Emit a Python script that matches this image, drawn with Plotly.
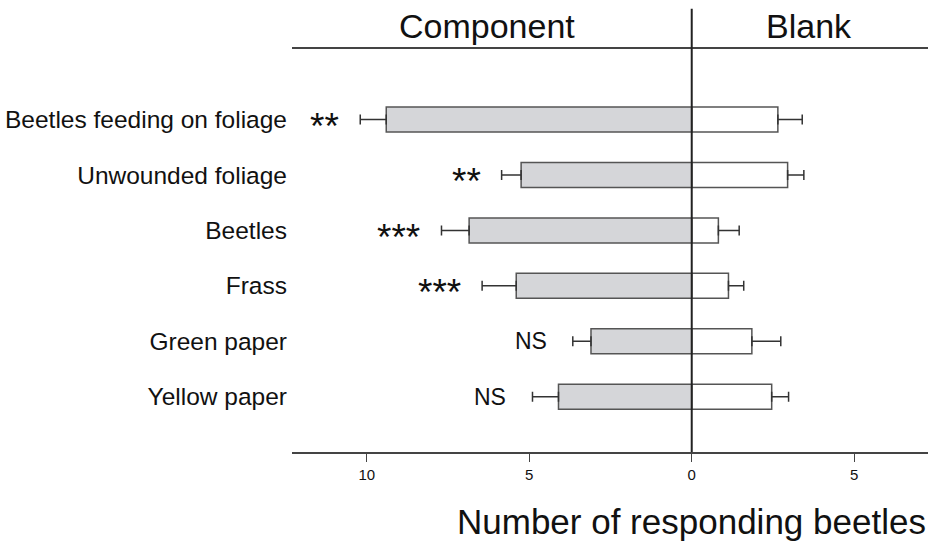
import plotly.graph_objects as go

categories = ["Beetles feeding on foliage", "Unwounded foliage", "Beetles", "Frass",
              "Green paper", "Yellow paper"]
component = [9.4, 5.25, 6.85, 5.4, 3.1, 4.1]
component_err = [0.8, 0.6, 0.85, 1.05, 0.56, 0.8]
blank = [2.65, 2.95, 0.82, 1.13, 1.85, 2.46]
blank_err = [0.75, 0.5, 0.64, 0.47, 0.89, 0.52]
significance = ["**", "**", "***", "***", "NS", "NS"]
tick_vals = [-10, -5, 0, 5]
tick_text = ["10", "5", "0", "5"]

FONT = "Liberation Sans, Arial, Helvetica, sans-serif"
EDGE = "#555555"
TXT = "#111111"

fig = go.Figure()
fig.add_trace(go.Bar(
    y=categories, x=[-v for v in component], orientation="h", width=0.45,
    marker=dict(color="#d5d6d9", line=dict(color=EDGE, width=1.5)),
    error_x=dict(type="data", symmetric=False, array=[0] * len(component),
                 arrayminus=component_err, color="#333333", thickness=1.5, width=5),
    showlegend=False,
))
fig.add_trace(go.Bar(
    y=categories, x=blank, orientation="h", width=0.45,
    marker=dict(color="white", line=dict(color=EDGE, width=1.5)),
    error_x=dict(type="data", symmetric=False, array=blank_err,
                 arrayminus=[0] * len(blank), color="#333333", thickness=1.5, width=5),
    showlegend=False,
))

annotations = []
for cat, v, e, s in zip(categories, component, component_err, significance):
    star = s.startswith("*")
    annotations.append(dict(
        x=-(v + e), y=cat, xref="x", yref="y", text=s, showarrow=False,
        xanchor="right", yanchor="middle", xshift=-19 if star else -24,
        yshift=-7 if star else 0,
        font=dict(family=FONT, size=37 if star else 23, color=TXT),
    ))
# header positions in paper fractions of the plot width (plot spans 290..928 px)
annotations += [
    dict(x=(486 - 290) / 638, y=1.0, xref="paper", yref="paper", text="Component",
         showarrow=False, xanchor="center", yanchor="bottom", yshift=2,
         font=dict(family=FONT, size=34, color=TXT)),
    dict(x=(808.5 - 290) / 638, y=1.0, xref="paper", yref="paper", text="Blank",
         showarrow=False, xanchor="center", yanchor="bottom", yshift=2,
         font=dict(family=FONT, size=34, color=TXT)),
    dict(x=1.0, y=0, xref="paper", yref="paper", yshift=-69, text="Number of responding beetles",
         showarrow=False, xanchor="right", yanchor="middle",
         font=dict(family=FONT, size=35, color=TXT)),
]

fig.update_layout(
    width=933, height=542,
    margin=dict(l=290, r=5, t=49, b=90),
    paper_bgcolor="white", plot_bgcolor="white",
    barmode="overlay",
    annotations=annotations,
    shapes=[dict(type="line", xref="x", yref="paper", x0=0, x1=0, y0=0, y1=1.1,
                 line=dict(color="#222222", width=2))],
    xaxis=dict(range=[-12.3, 7.27], tickvals=tick_vals, ticktext=tick_text,
               showgrid=False, zeroline=False, showline=True, mirror=True,
               linecolor="#444444", linewidth=1.5, ticks="outside", ticklen=8,
               tickcolor="#444444", tickwidth=1.2,
               tickfont=dict(family=FONT, size=15, color=TXT)),
    yaxis=dict(type="category", categoryorder="array", categoryarray=categories,
               range=[5 + 0.997, -1.272], showgrid=False, zeroline=False,
               showline=False, ticks="", ticklabelstandoff=4,
               tickfont=dict(family=FONT, size=24.5, color=TXT)),
)

fig.write_html("out.html", config={"displayModeBar": False},
               post_script="document.body.style.margin='0';document.body.style.overflow='hidden';")
